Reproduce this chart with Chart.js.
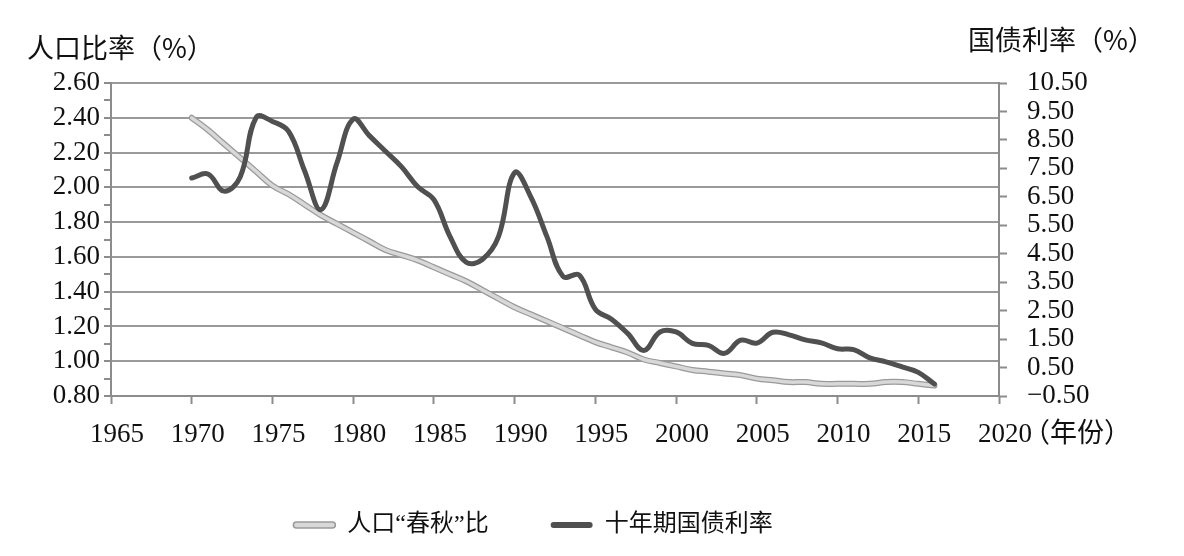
<!DOCTYPE html>
<html>
<head>
<meta charset="utf-8">
<script src="https://cdn.jsdelivr.net/npm/chart.js@4.4.1/dist/chart.umd.min.js"></script>
<style>
  html, body { margin: 0; padding: 0; background: #fff; }
</style>
</head>
<body>
<canvas id="chart" width="1184" height="556"></canvas>
<script>
// years on the x axis
const years = [1970, 1971, 1972, 1973, 1974, 1975, 1976, 1977, 1978, 1979,
               1980, 1981, 1982, 1983, 1984, 1985, 1986, 1987, 1988, 1989,
               1990, 1991, 1992, 1993, 1994, 1995, 1996, 1997, 1998, 1999,
               2000, 2001, 2002, 2003, 2004, 2005, 2006, 2007, 2008, 2009,
               2010, 2011, 2012, 2013, 2014, 2015, 2016];

// 人口"春秋"比 (left axis, %)
const popRatio = [2.40, 2.33, 2.25, 2.17, 2.09, 2.01, 1.96, 1.90, 1.84, 1.79,
                  1.74, 1.69, 1.64, 1.61, 1.58, 1.54, 1.50, 1.46, 1.41, 1.36,
                  1.31, 1.27, 1.23, 1.19, 1.15, 1.11, 1.08, 1.05, 1.01, 0.99,
                  0.97, 0.95, 0.94, 0.93, 0.92, 0.90, 0.89, 0.88, 0.88, 0.87,
                  0.87, 0.87, 0.87, 0.88, 0.88, 0.87, 0.86];

// 十年期国债利率 (right axis, %)
const bondYield = [7.16, 7.30, 6.70, 7.20, 9.30, 9.15, 8.80, 7.40, 6.05, 7.70,
                   9.23, 8.65, 8.10, 7.55, 6.85, 6.40, 5.10, 4.20, 4.30, 5.10,
                   7.35, 6.50, 5.10, 3.70, 3.75, 2.55, 2.20, 1.70, 1.10, 1.75,
                   1.75, 1.35, 1.28, 1.00, 1.46, 1.36, 1.74, 1.65, 1.47, 1.37,
                   1.16, 1.13, 0.84, 0.70, 0.52, 0.33, -0.08];

// tick positions
const yearTicks = [1965, 1970, 1975, 1980, 1985, 1990, 1995, 2000, 2005, 2010, 2015, 2020];
const ratioTicks = [0.8, 0.9, 1.0, 1.1, 1.2, 1.3, 1.4, 1.5, 1.6, 1.7, 1.8, 1.9,
                    2.0, 2.1, 2.2, 2.3, 2.4, 2.5, 2.6];
const rateTicks = [-0.5, 0.5, 1.5, 2.5, 3.5, 4.5, 5.5, 6.5, 7.5, 8.5, 9.5, 10.5];

const serif = '"Liberation Serif", "Times New Roman", serif';
const cjk = '"Noto Sans CJK SC", sans-serif';
const legendFont = '"Liberation Serif", "Noto Sans CJK SC", serif';
const axisGray = '#8c8c8c';
const gridGray = '#9a9a9a';
const bondColor = '#505050';
const popFill = '#d8d8d8';
const popEdge = '#9a9a9a';

Chart.defaults.font.family = serif;
Chart.defaults.color = '#111';

const toPoints = arr => arr.map((v, i) => ({ x: years[i], y: v }));
const isMajor = v => Math.round(v * 10) % 2 === 0;

// axis titles that sit outside the plot
const axisTitles = {
  id: 'axisTitles',
  afterDraw(chart) {
    const { ctx, chartArea } = chart;
    ctx.save();
    ctx.fillStyle = '#111';
    ctx.textBaseline = 'middle';
    ctx.textAlign = 'left';
    ctx.font = '27px ' + cjk;
    ctx.fillText('人口比率（%）', chartArea.left - 84, chartArea.top - 35);
    ctx.fillText('国债利率（%）', chartArea.right - 31, chartArea.top - 43);
    ctx.fillText('（年份）', chartArea.right + 24, chartArea.bottom + 36);
    ctx.restore();
  }
};

new Chart(document.getElementById('chart'), {
  type: 'line',
  data: {
    datasets: [{
        label: '十年期国债利率',
        data: toPoints(bondYield),
        yAxisID: 'y2',
        borderColor: bondColor,
        borderWidth: 5,
        borderCapStyle: 'round',
        borderJoinStyle: 'round',
        pointRadius: 0,
        tension: 0.4,
        fill: false,
        order: 0
      }, {
        label: '人口“春秋”比',
        data: toPoints(popRatio),
        yAxisID: 'y',
        borderColor: popFill,
        borderWidth: 3.5,
        borderCapStyle: 'round',
        pointRadius: 0,
        tension: 0.4,
        fill: false,
        order: 1
      }, {
        label: 'edge',
        data: toPoints(popRatio),
        yAxisID: 'y',
        borderColor: popEdge,
        borderWidth: 6,
        borderCapStyle: 'round',
        pointRadius: 0,
        tension: 0.4,
        fill: false,
        order: 2
      }
    ]
  },
  options: {
    responsive: false,
    animation: false,
    layout: { padding: { top: 83, left: -28, right: 90, bottom: 9 } },
    plugins: {
      tooltip: { enabled: false },
      legend: {
        position: 'bottom',
        labels: {
          boxWidth: 42,
          boxHeight: 6,
          padding: 62,
          useBorderRadius: true,
          borderRadius: 3,
          color: '#111',
          font: { family: legendFont, size: 24 },
          generateLabels: () => [
            { text: '人口“春秋”比', fillStyle: popFill, strokeStyle: popEdge, lineWidth: 1.5,
              fontColor: '#111', hidden: false, datasetIndex: 1, borderRadius: 3 },
            { text: '十年期国债利率', fillStyle: bondColor, strokeStyle: bondColor, lineWidth: 0,
              fontColor: '#111', hidden: false, datasetIndex: 0, borderRadius: 3 }
          ]
        }
      }
    },
    scales: {
      x: {
        type: 'linear',
        min: 1965,
        max: 2020,
        afterBuildTicks: s => { s.ticks = yearTicks.map(v => ({ value: v })); },
        afterFit: s => { s.height = 55; },
        grid: { drawOnChartArea: false, tickLength: 8, tickColor: axisGray, tickWidth: 2 },
        border: { color: axisGray, width: 2 },
        ticks: {
          autoSkip: false, maxRotation: 0, padding: 15, labelOffset: 6,
          font: { size: 27 },
          callback: v => String(v)
        }
      },
      y: {
        position: 'left',
        min: 0.8,
        max: 2.6,
        afterBuildTicks: s => { s.ticks = ratioTicks.map(v => ({ value: v })); },
        afterFit: s => { s.width = 139; },
        grid: {
          color: c => (c.tick && isMajor(c.tick.value)) ? gridGray : 'rgba(0,0,0,0)',
          lineWidth: 2,
          tickLength: 7,
          tickColor: axisGray
        },
        border: { color: axisGray, width: 2 },
        ticks: {
          autoSkip: false, padding: 4,
          font: { size: 27 },
          callback: v => isMajor(v) ? v.toFixed(2) : ''
        }
      },
      y2: {
        position: 'right',
        min: -0.5,
        max: 10.5,
        afterBuildTicks: s => { s.ticks = rateTicks.map(v => ({ value: v })); },
        afterFit: s => { s.width = 95; },
        grid: { drawOnChartArea: false, tickLength: 8, tickColor: axisGray, tickWidth: 2 },
        border: { color: axisGray, width: 2 },
        ticks: {
          autoSkip: false, padding: 20,
          font: { size: 27 },
          callback: v => v < 0 ? '\u2212' + Math.abs(v).toFixed(2) : v.toFixed(2)
        }
      }
    }
  },
  plugins: [axisTitles]
});
</script>
</body>
</html>
